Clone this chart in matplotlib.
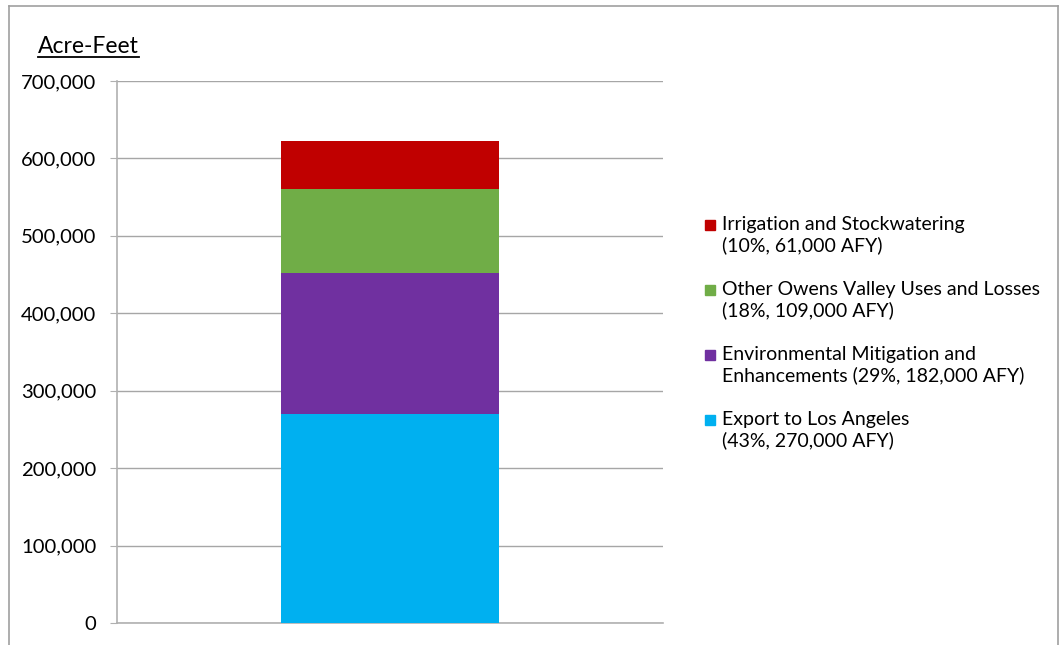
import matplotlib.pyplot as plt
from matplotlib.patches import Rectangle
from matplotlib.lines import Line2D
from matplotlib.ticker import FuncFormatter

plt.rcParams['font.family'] = ['Lato', 'DejaVu Sans']

# Owens Valley water use breakdown, acre-feet per year
uses = ['Export to Los Angeles',
        'Environmental Mitigation and\nEnhancements',
        'Other Owens Valley Uses and Losses',
        'Irrigation and Stockwatering']
volumes = [270000, 182000, 109000, 61000]
shares = [43, 29, 18, 10]
colors = ['#00b0f0', '#7030a0', '#70ad47', '#c00000']
yticks = [0, 100000, 200000, 300000, 400000, 500000, 600000, 700000]

W, H = 1063, 645
fig = plt.figure(figsize=(W / 100, H / 100), dpi=100)
ax = fig.add_axes([117 / W, 1 - 623 / H, 546 / W, 542 / H])

bottom = 0
for v, c in zip(volumes, colors):
    ax.bar(0, v, width=0.4, bottom=bottom, color=c, zorder=3)
    bottom += v

ax.set_xlim(-0.5, 0.5)
ax.set_ylim(0, 700000)
ax.set_yticks(yticks)
ax.yaxis.set_major_formatter(FuncFormatter(lambda v, p: f'{int(v):,}'))
ax.set_xticks([])
ax.grid(axis='y', color='#a6a6a6', linewidth=1, zorder=0)
for s in ['top', 'right']:
    ax.spines[s].set_visible(False)
for s in ['left', 'bottom']:
    ax.spines[s].set_color('#b0b0b0')
    ax.spines[s].set_linewidth(1.2)
ax.tick_params(axis='y', length=5, color='#b0b0b0', labelsize=14.6, pad=10)

# axis title, underlined
t = fig.text(38 / W, 1 - 53 / H, 'Acre-Feet', fontsize=16.5, ha='left', va='baseline')
fig.canvas.draw()
bb = t.get_window_extent(fig.canvas.get_renderer()).transformed(fig.transFigure.inverted())
fig.add_artist(Line2D([bb.x0, bb.x1], [1 - 57 / H] * 2, color='black', lw=1.3))

# legend, top entry first
label_lines = [f'({s}%, {v:,} AFY)' for s, v in zip(shares, volumes)]
entries = []
for name, tail in zip(uses, label_lines):
    if '\n' in name:
        first, second = name.split('\n')
        entries.append(f'{first}\n{second} {tail}')
    else:
        entries.append(f'{name}\n{tail}')
y0 = 225
for i, idx in enumerate(reversed(range(len(uses)))):
    y = y0 + i * 65
    fig.add_artist(Rectangle((705 / W, 1 - (y + 5) / H), 10 / W, 10 / H,
                             color=colors[idx], transform=fig.transFigure))
    fig.text(722 / W, 1 - (y - 9) / H, entries[idx], fontsize=14,
             ha='left', va='top', linespacing=1.22)

# outer frame
fr = dict(color='#a0a0a0', lw=1.2, transform=fig.transFigure)
fig.add_artist(Line2D([9 / W, 9 / W], [0, 1 - 6 / H], **fr))
fig.add_artist(Line2D([9 / W, 1058 / W], [1 - 6 / H] * 2, **fr))
fig.add_artist(Line2D([1058 / W, 1058 / W], [0, 1 - 6 / H], **fr))

fig.savefig('out.png', dpi=100)
